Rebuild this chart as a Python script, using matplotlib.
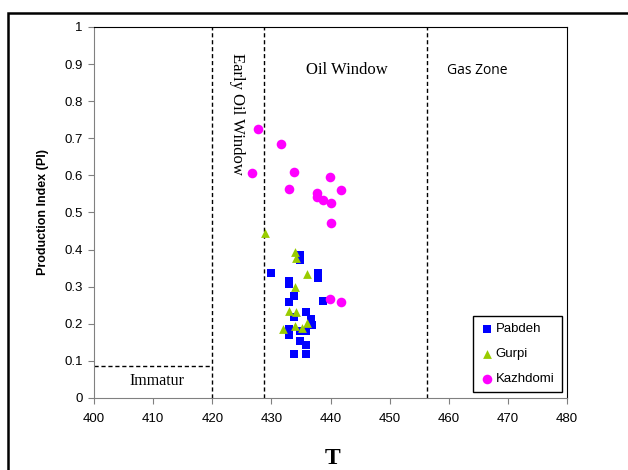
import matplotlib
matplotlib.use("Agg")
import matplotlib.pyplot as plt
from matplotlib.patches import Rectangle

# Pabdeh samples (Tmax, PI)
pabdeh_t = [434.8, 434.8, 429.9, 437.8, 437.8, 432.9, 432.9, 433.9, 432.9, 438.7,
            435.8, 433.9, 436.7, 436.9, 435.9, 432.9, 432.9, 434.8, 434.8, 435.8,
            433.9, 435.8]
pabdeh_pi = [0.385, 0.372, 0.338, 0.338, 0.324, 0.315, 0.306, 0.274, 0.258, 0.261,
             0.232, 0.219, 0.214, 0.196, 0.181, 0.187, 0.170, 0.180, 0.154, 0.143,
             0.119, 0.119]

# Gurpi samples
gurpi_t = [429.0, 434.0, 434.1, 436.0, 434.0, 433.0, 434.2, 436.1, 434.0, 435.1, 431.9]
gurpi_pi = [0.444, 0.394, 0.377, 0.334, 0.298, 0.235, 0.233, 0.201, 0.195, 0.190, 0.186]

# Kazhdomi samples
kazh_t = [427.8, 431.7, 426.8, 433.9, 439.9, 432.9, 441.8, 437.7, 437.7, 438.7,
          440.0, 440.0, 439.9, 441.8]
kazh_pi = [0.724, 0.685, 0.606, 0.609, 0.595, 0.563, 0.561, 0.552, 0.541, 0.534,
           0.526, 0.473, 0.267, 0.258]

# zone boundaries
zone_t = [420, 428.7, 456.3]
immature_pi = 0.085

fig = plt.figure(figsize=(6.28, 4.70), dpi=100)
ax = fig.add_axes([0.1497, 0.1532, 0.7532, 0.7894])

ax.scatter(pabdeh_t, pabdeh_pi, marker="s", s=26, color="#0000ff", linewidths=0, label="Pabdeh", zorder=3)
ax.scatter(gurpi_t, gurpi_pi, marker="^", s=40, color="#99cc00", linewidths=0, label="Gurpi", zorder=3)
ax.scatter(kazh_t, kazh_pi, marker="o", s=48, color="#ff00ff", linewidths=0, label="Kazhdomi", zorder=3)

for t in zone_t:
    ax.axvline(t, color="black", lw=1, ls=(0, (3, 2)), zorder=1)
ax.plot([400, zone_t[0]], [immature_pi, immature_pi], color="black", lw=1, ls=(0, (3, 2)))

ax.set_xlim(400, 480)
ax.set_ylim(0, 1)
ax.set_xticks(range(400, 481, 10))
ax.set_yticks([i / 10 for i in range(11)])
ax.set_yticklabels(["0"] + ["%.1f" % (i / 10) for i in range(1, 10)] + ["1"])
for lab in ax.get_xticklabels() + ax.get_yticklabels():
    lab.set_family("Liberation Sans")
    lab.set_fontsize(9.5)
ax.tick_params(direction="out", length=4, color="#808080", pad=4)
ax.tick_params(axis="x", pad=7)
for side in ["left", "bottom"]:
    ax.spines[side].set_color("#808080")
for side in ["top", "right"]:
    ax.spines[side].set_color("black")

ax.set_ylabel("Production Index (PI)", family="Liberation Sans", fontweight="bold", fontsize=9, labelpad=11)

serif = "Liberation Serif"
ax.text(410.7, 0.045, "Immatur", family=serif, fontsize=11.5, ha="center", va="center")
ax.text(424.1, 0.93, "Early Oil Window", family=serif, fontsize=12, rotation=-90, ha="center", va="top")
ax.text(442.7, 0.884, "Oil Window", family=serif, fontsize=12, ha="center", va="center")
ax.text(464.9, 0.884, "Gas Zone", family="Open Sans", fontsize=10, ha="center", va="center")

leg = ax.legend(loc="upper right", bbox_to_anchor=(0.989, 0.221), borderaxespad=0,
                fancybox=False, framealpha=1, edgecolor="black", handletextpad=0.2,
                handlelength=1, prop={"family": "Liberation Sans", "size": 9.5},
                labelspacing=0.95, borderpad=0.55)
leg.get_frame().set_linewidth(1)

fig.text(0.53, 0.003, "T", family=serif, fontweight="bold", fontsize=17, ha="center", va="bottom")

fig.add_artist(Rectangle((8 / 628, -0.5), 2, 0.9723 + 0.5, transform=fig.transFigure,
                         fill=False, lw=1.8, edgecolor="black", clip_on=False))

fig.savefig("out.png", dpi=100)
